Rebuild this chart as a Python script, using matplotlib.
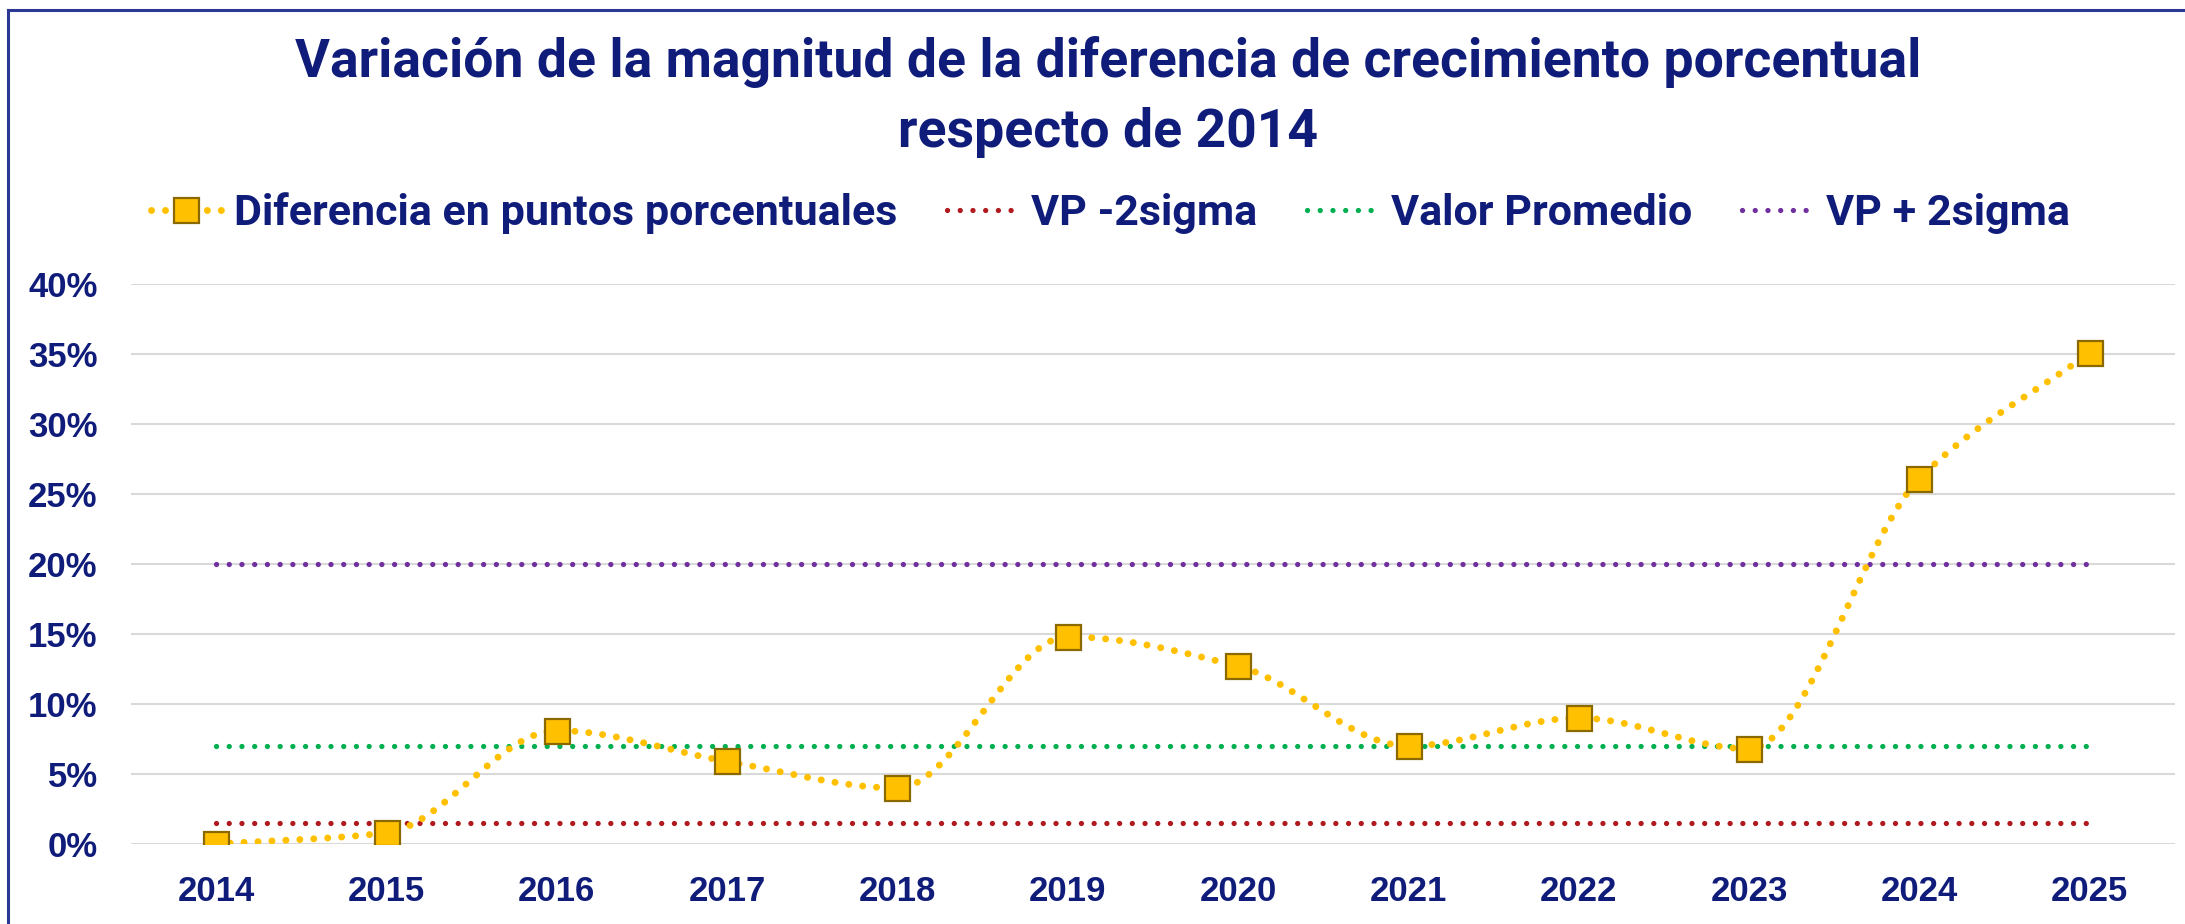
import matplotlib.pyplot as plt
import numpy as np
from matplotlib.lines import Line2D
from matplotlib.ticker import PercentFormatter

# Series values (fraction of 1)
years = ['2014', '2015', '2016', '2017', '2018', '2019',
         '2020', '2021', '2022', '2023', '2024', '2025']
diferencia = [0.000, 0.008, 0.081, 0.059, 0.040, 0.148,
              0.127, 0.070, 0.090, 0.068, 0.261, 0.351]
vp_menos_2sigma = 0.015
valor_promedio = 0.070
vp_mas_2sigma = 0.200

navy = '#101c7a'
frame_blue = '#2b3894'


def smooth_curve(y, n_seg=40):
    """Monotone cubic (Fritsch-Carlson) path through every point, for a smoothed line.
    Returns x, y samples and the sample index of each original point."""
    y = np.asarray(y, dtype=float)
    d = np.diff(y)
    m = np.zeros_like(y)
    for k in range(1, len(y) - 1):
        if d[k - 1] * d[k] > 0:
            m[k] = 2.0 / (1.0 / d[k - 1] + 1.0 / d[k])
    # end tangents follow the first / last segment
    m[0] = d[0]
    m[-1] = d[-1]
    xs, ys, idx = [], [], []
    t = np.linspace(0, 1, n_seg, endpoint=False)
    h00 = 2 * t ** 3 - 3 * t ** 2 + 1
    h10 = t ** 3 - 2 * t ** 2 + t
    h01 = -2 * t ** 3 + 3 * t ** 2
    h11 = t ** 3 - t ** 2
    for i in range(len(y) - 1):
        idx.append(len(xs))
        xs.extend(i + t)
        ys.extend(h00 * y[i] + h10 * m[i] + h01 * y[i + 1] + h11 * m[i + 1])
    idx.append(len(xs))
    xs.append(len(y) - 1)
    ys.append(y[-1])
    return np.array(xs), np.array(ys), idx


fig = plt.figure(figsize=(21.85, 9.24), dpi=100)
ax = fig.add_axes([131 / 2185, 1 - 844 / 924, (2175 - 131) / 2185, (844 - 284) / 924])

sx, sy, mark_idx = smooth_curve(diferencia)
ax.plot(sx, sy, color='#ffc000', lw=5, linestyle=(0, (0.01, 2.0)),
        dash_capstyle='round', marker='s', markevery=mark_idx, markersize=18,
        markerfacecolor='#ffc000', markeredgecolor='#8a6a00', markeredgewidth=1.6,
        zorder=4, label='Diferencia en puntos porcentuales')

x_ends = [0, len(years) - 1]
ref_style = dict(lw=3.8, linestyle=(0, (0.01, 2.4)), dash_capstyle='round', zorder=3)
ax.plot(x_ends, [vp_menos_2sigma] * 2, color='#b01a1f', label='VP -2sigma', **ref_style)
ax.plot(x_ends, [valor_promedio] * 2, color='#00b050', label='Valor Promedio', **ref_style)
ax.plot(x_ends, [vp_mas_2sigma] * 2, color='#7030a0', label='VP + 2sigma', **ref_style)

ax.set_xlim(-0.5, len(years) - 0.5)
ax.set_ylim(0, 0.40)
ax.set_yticks(np.arange(0, 0.401, 0.05))
ax.yaxis.set_major_formatter(PercentFormatter(1.0, decimals=0))
ax.set_xticks(range(len(years)))
ax.set_xticklabels(years)
ax.grid(axis='y', color='#d9d9d9', lw=1.5)
ax.set_axisbelow(True)
for s in ax.spines.values():
    s.set_visible(False)
ax.tick_params(length=0, labelsize=25, labelcolor=navy)
ax.tick_params(axis='y', pad=24)
ax.tick_params(axis='x', pad=22)
for lab in ax.get_xticklabels() + ax.get_yticklabels():
    lab.set_fontfamily('Liberation Sans')
    lab.set_fontweight('bold')

fig.text(1108 / 2185, 1 - 97 / 924,
         'Variación de la magnitud de la diferencia de crecimiento porcentual\nrespecto de 2014',
         ha='center', va='center', fontsize=38.5, fontweight='bold', color=navy,
         family='Roboto', linespacing=1.45)

leg = fig.legend(loc='center', bbox_to_anchor=(1110 / 2185, 1 - 213 / 924), ncol=4,
                 frameon=False, handlelength=1.65, handletextpad=0.3, columnspacing=1.15,
                 prop={'family': 'Roboto', 'weight': 'bold', 'size': 31})
for t in leg.get_texts():
    t.set_color(navy)

# frame along the top and left edges
fig.add_artist(Line2D([8 / 2185, 1], [1 - 10 / 924, 1 - 10 / 924],
                      transform=fig.transFigure, color=frame_blue, lw=2.2))
fig.add_artist(Line2D([8 / 2185, 8 / 2185], [0, 1 - 10 / 924],
                      transform=fig.transFigure, color=frame_blue, lw=2.2))

fig.savefig('out.png', dpi=100)
